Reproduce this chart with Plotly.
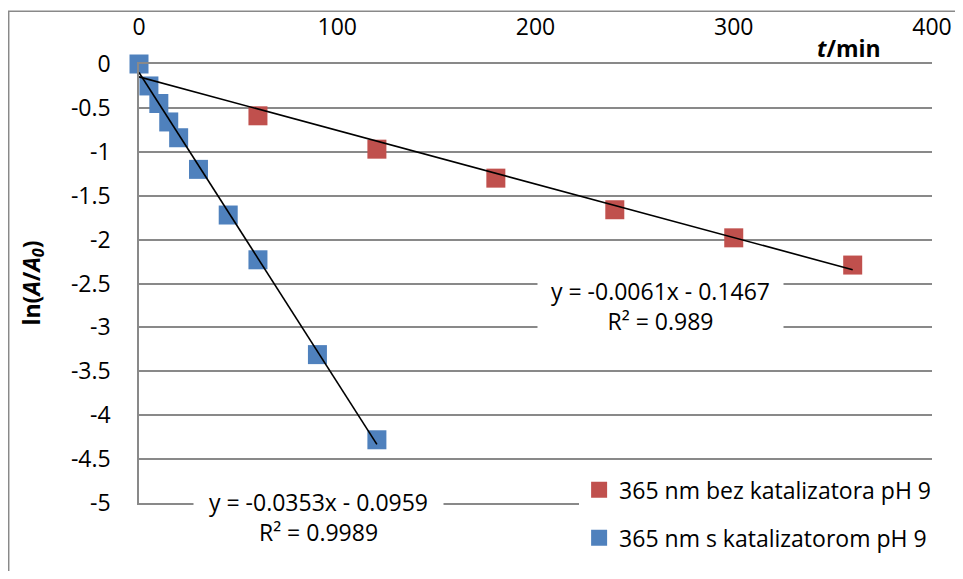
import plotly.graph_objects as go

# ---- data ----
t_bez = [60, 120, 180, 240, 300, 360]
ln_bez = [-0.59, -0.97, -1.30, -1.66, -1.98, -2.29]

t_kat = [0, 5, 10, 15, 20, 30, 45, 60, 90, 120]
ln_kat = [0.0, -0.25, -0.45, -0.66, -0.84, -1.20, -1.72, -2.23, -3.31, -4.28]

fit_bez = {"slope": -0.0061, "intercept": -0.1467, "r2": "0.989", "xmax": 360}
fit_kat = {"slope": -0.0353, "intercept": -0.0959, "r2": "0.9989", "xmax": 120}

name_bez = "365 nm bez katalizatora pH 9"
name_kat = "365 nm s katalizatorom pH 9"

x_ticks = [0, 100, 200, 300, 400]
x_ticktext = ["0", "100", "200", "300", "400"]
y_ticks = [0, -0.5, -1, -1.5, -2, -2.5, -3, -3.5, -4, -4.5, -5]
y_ticktext = ["0", "-0.5", "-1", "-1.5", "-2", "-2.5", "-3", "-3.5", "-4", "-4.5", "-5"]

RED = "#C0504D"
BLUE = "#4F81BD"
GRID = "#898989"
FONT = "Open Sans"
FS = 23

fig = go.Figure()

fig.add_trace(go.Scatter(x=t_bez, y=ln_bez, mode="markers", name=name_bez,
                         legendgroup="bez", cliponaxis=False,
                         marker=dict(symbol="square", size=19, color=RED)))
fig.add_trace(go.Scatter(x=t_kat, y=ln_kat, mode="markers", name=name_kat,
                         legendgroup="kat", cliponaxis=False,
                         marker=dict(symbol="square", size=19, color=BLUE)))

for fit in (fit_bez, fit_kat):
    xs = [0, fit["xmax"]]
    ys = [fit["intercept"] + fit["slope"] * v for v in xs]
    fig.add_trace(go.Scatter(x=xs, y=ys, mode="lines", showlegend=False,
                             hoverinfo="skip", cliponaxis=False,
                             line=dict(color="black", width=1.6)))

def eq_text(fit):
    return "y = %.4fx - %.4f<br>R² = %s" % (fit["slope"], -fit["intercept"], fit["r2"])

annotations = [
    dict(x=262.8, y=0.4490, xref="x", yref="paper", text=eq_text(fit_bez),
         showarrow=False, bgcolor="white", width=243, height=68,
         align="center", xanchor="center", yanchor="middle",
         font=dict(family=FONT, size=FS, color="black")),
    dict(x=90.5, y=-0.0317, xref="x", yref="paper", text=eq_text(fit_kat),
         showarrow=False, bgcolor="white", width=247, height=62,
         align="center", xanchor="center", yanchor="middle",
         font=dict(family=FONT, size=FS, color="black")),
    dict(x=-0.1349, y=0.5, xref="paper", yref="paper",
         text="<b>ln(<i>A</i>/<i>A</i><sub><i>0</i></sub>)</b>",
         textangle=-90, showarrow=False, xanchor="center", yanchor="middle",
         font=dict(family=FONT, size=FS, color="black")),
    dict(x=0.8953, y=1.0363, xref="paper", yref="paper",
         text="<b><i>t</i>/min</b>", showarrow=False,
         xanchor="center", yanchor="middle",
         font=dict(family=FONT, size=FS, color="black")),
]

fig.update_layout(
    width=947, height=563,
    margin=dict(l=131, r=23, t=56, b=66),
    paper_bgcolor="white", plot_bgcolor="white",
    font=dict(family=FONT, size=FS, color="black"),
    xaxis=dict(range=[0, 400], side="top", tickvals=x_ticks, ticktext=x_ticktext,
               showgrid=False, zeroline=False, showline=True, mirror=True,
               linecolor=GRID, linewidth=1.5, automargin=False,
               ticks="outside", ticklen=18, tickcolor="rgba(0,0,0,0)"),
    yaxis=dict(range=[-5, 0], tickvals=y_ticks, ticktext=y_ticktext,
               showgrid=True, gridcolor=GRID, gridwidth=1.5, zeroline=False,
               showline=True, linecolor=GRID, linewidth=1.5, automargin=False,
               ticks="outside", ticklen=22, tickcolor="rgba(0,0,0,0)"),
    legend=dict(x=0.555, y=0.079, xanchor="left", yanchor="top",
                bgcolor="white", borderwidth=0, tracegroupgap=15,
                traceorder="grouped", font=dict(family=FONT, size=FS, color="black")),
    annotations=annotations,
    shapes=[dict(type="rect", xref="paper", yref="paper",
                 x0=-0.1643, x1=1.2, y0=-0.3, y1=1.1202,
                 line=dict(color=GRID, width=1.5), fillcolor="rgba(0,0,0,0)")],
)

fig.write_html("out.html")
